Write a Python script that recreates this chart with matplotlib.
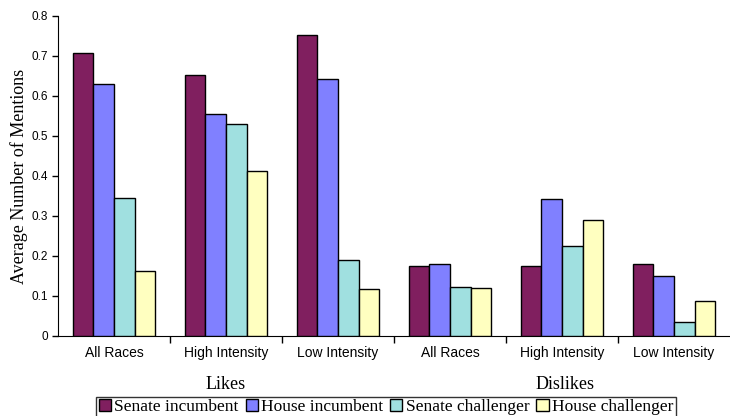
import numpy as np
import matplotlib.pyplot as plt
from matplotlib.patches import Patch

categories = ["All Races", "High Intensity", "Low Intensity",
              "All Races", "High Intensity", "Low Intensity"]
groups = ["Likes", "Dislikes"]
series = ["Senate incumbent", "House incumbent", "Senate challenger", "House challenger"]
senate_inc = [0.707, 0.652, 0.752, 0.176, 0.174, 0.179]
house_inc = [0.629, 0.556, 0.642, 0.179, 0.342, 0.149]
senate_chal = [0.345, 0.531, 0.190, 0.122, 0.224, 0.034]
house_chal = [0.163, 0.413, 0.118, 0.119, 0.291, 0.088]
colors = ["#801F5F", "#8080FF", "#A0E0E0", "#FFFFC0"]

serif = ["Liberation Serif", "DejaVu Serif"]
sans = ["Liberation Sans", "DejaVu Sans"]

fig = plt.figure(figsize=(7.3, 4.16), dpi=100)
ax = fig.add_axes([58/730, 1-336/416, 1-58/730, (336-16)/416])

x = np.arange(len(categories))
w = 0.185
vals = [senate_inc, house_inc, senate_chal, house_chal]
for i, v in enumerate(vals):
    ax.bar(x + (i - 1.5)*w, v, w, color=colors[i], edgecolor="black", linewidth=1, zorder=3)

ax.set_xlim(-0.5, 5.5)
ax.set_ylim(0, 0.8)
ax.set_yticks(np.arange(0, 0.81, 0.1))
ax.set_yticklabels(["0"] + ["%.1f" % t for t in np.arange(0.1, 0.81, 0.1)], family=sans, fontsize=8.5)
ax.set_xticks(np.arange(0.5, 5.5, 1))
ax.set_xticklabels([])
ax.tick_params(axis="x", length=5, width=1, direction="out")
ax.tick_params(axis="y", length=4, width=1, direction="out", pad=3)
for i, c in enumerate(categories):
    ax.text(i, -0.025, c, ha="center", va="top", family=sans, fontsize=10)
ax.text(1, -0.1, groups[0], ha="center", va="top", family=serif, fontsize=13)
ax.text(4.03, -0.1, groups[1], ha="center", va="top", family=serif, fontsize=13)

ax.spines["top"].set_visible(False)
ax.spines["right"].set_visible(False)
ax.set_ylabel("Average Number of Mentions", family=serif, fontsize=13, labelpad=3)

handles = [Patch(facecolor=colors[i], edgecolor="black", label=series[i]) for i in range(4)]
fig.legend(handles=handles, loc="upper center", bbox_to_anchor=(386/730, 1-396.5/416), ncol=4,
           prop={"family": serif, "size": 12.5}, frameon=True, fancybox=False, edgecolor="black",
           handlelength=0.7, handleheight=0.7, handletextpad=0.2, columnspacing=0.4,
           borderpad=0.15, borderaxespad=0)

fig.savefig("out.png", dpi=100)
